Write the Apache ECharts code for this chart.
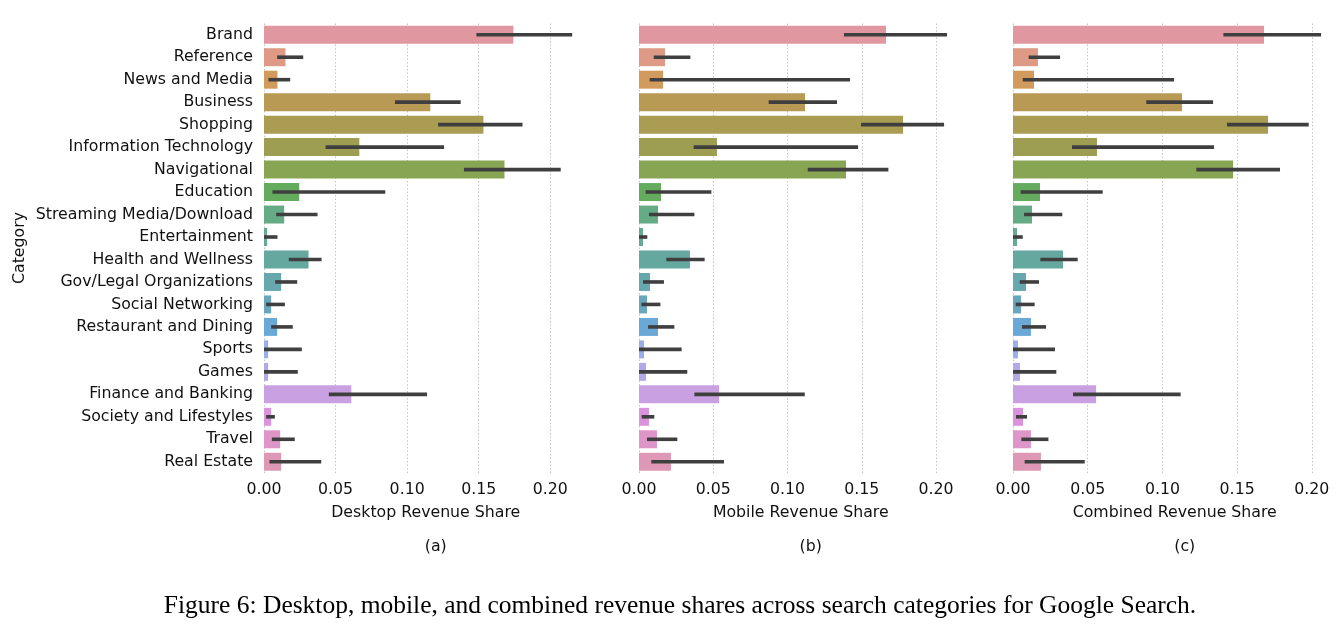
<!DOCTYPE html>
<html>
<head>
<meta charset="utf-8">
<script src="https://cdn.jsdelivr.net/npm/echarts@6/dist/echarts.min.js"></script>
<style>
html,body{margin:0;padding:0;background:#fff;}
#chart{width:1344px;height:636px;}
</style>
</head>
<body>
<div id="chart"></div>
<script>
const categories = ['Brand','Reference','News and Media','Business','Shopping','Information Technology','Navigational','Education','Streaming Media/Download','Entertainment','Health and Wellness','Gov/Legal Organizations','Social Networking','Restaurant and Dining','Sports','Games','Finance and Banking','Society and Lifestyles','Travel','Real Estate'];

const desktop   = [0.1742,0.0150,0.0094,0.1162,0.1533,0.0666,0.1680,0.0246,0.0141,0.0022,0.0311,0.0120,0.0050,0.0092,0.0029,0.0029,0.0610,0.0050,0.0113,0.0120];
const desktopLo = [0.1484,0.0092,0.0031,0.0915,0.1216,0.0430,0.1397,0.0059,0.0085,0.0000,0.0173,0.0078,0.0015,0.0050,0.0000,0.0000,0.0453,0.0015,0.0055,0.0038];
const desktopHi = [0.2153,0.0274,0.0183,0.1374,0.1806,0.1258,0.2073,0.0847,0.0374,0.0094,0.0402,0.0232,0.0146,0.0201,0.0264,0.0236,0.1139,0.0076,0.0215,0.0400];

const mobile   = [0.1663,0.0175,0.0162,0.1118,0.1778,0.0525,0.1394,0.0148,0.0128,0.0027,0.0343,0.0074,0.0054,0.0128,0.0034,0.0047,0.0539,0.0067,0.0121,0.0215];
const mobileLo = [0.1380,0.0099,0.0072,0.0873,0.1495,0.0368,0.1136,0.0045,0.0067,0.0000,0.0184,0.0027,0.0016,0.0061,0.0000,0.0000,0.0373,0.0018,0.0054,0.0083];
const mobileHi = [0.2074,0.0346,0.1421,0.1333,0.2054,0.1475,0.1679,0.0487,0.0373,0.0056,0.0442,0.0168,0.0144,0.0238,0.0287,0.0325,0.1116,0.0103,0.0258,0.0572];

const combined   = [0.1680,0.0167,0.0141,0.1131,0.1707,0.0562,0.1473,0.0181,0.0127,0.0027,0.0335,0.0087,0.0054,0.0120,0.0033,0.0047,0.0556,0.0067,0.0120,0.0187];
const combinedLo = [0.1408,0.0105,0.0065,0.0892,0.1432,0.0395,0.1227,0.0051,0.0074,0.0000,0.0183,0.0045,0.0018,0.0060,0.0000,0.0000,0.0402,0.0020,0.0056,0.0078];
const combinedHi = [0.2062,0.0315,0.1078,0.1339,0.1979,0.1345,0.1787,0.0600,0.0330,0.0065,0.0433,0.0174,0.0145,0.0221,0.0281,0.0290,0.1122,0.0094,0.0237,0.0480];

const axisNames = ['Desktop Revenue Share','Mobile Revenue Share','Combined Revenue Share'];
const subLabels = ['(a)','(b)','(c)'];
const xTicks = [0, 0.05, 0.10, 0.15, 0.20];
const axisMax = [0.226, 0.2178, 0.2165];
const caption = 'Figure 6: Desktop, mobile, and combined revenue shares across search categories for Google Search.';

const palette = ['#e0979f','#df9a86','#d29a5c','#b89a55','#aa9c53','#9d9e52','#87a553','#63ac5d','#64ab86','#65aa96','#65a8a0','#66a8ae','#68a7bb','#6aa9d6','#9aaeea','#b5a8e8','#c9a0e2','#dc93de','#de95c8','#de98b5'];

const panels = [
  {vals: desktop, lo: desktopLo, hi: desktopHi},
  {vals: mobile, lo: mobileLo, hi: mobileHi},
  {vals: combined, lo: combinedLo, hi: combinedHi}
];
const lefts = [264, 639, 1013];
const gw = 323.5;
const FONT = 'DejaVu Sans';
const FS = 15.75;
const TXT = '#111111';

const grids = [], xAxes = [], yAxes = [], series = [], graphics = [];
panels.forEach((p, k) => {
  grids.push({left: lefts[k], top: 23.5, width: gw, height: 449.5, containLabel: false});
  xAxes.push({
    type: 'value', gridIndex: k, min: 0, max: axisMax[k], interval: 0.05,
    axisLine: {show: false}, axisTick: {show: false},
    axisLabel: {
      color: TXT, fontFamily: FONT, fontSize: FS, margin: 9,
      showMaxLabel: false,
      formatter: v => xTicks.some(t => Math.abs(t - v) < 1e-9) ? v.toFixed(2) : ''
    },
    splitLine: {show: true, showMaxLine: false, lineStyle: {color: '#c4c4c4', width: 1, type: [1.5, 2]}},
    name: axisNames[k], nameLocation: 'middle', nameGap: 32,
    nameTextStyle: {color: TXT, fontFamily: FONT, fontSize: FS}
  });
  yAxes.push({
    type: 'category', gridIndex: k, data: categories, inverse: true,
    axisLine: {show: false}, axisTick: {show: false},
    axisLabel: {show: k === 0, color: TXT, fontFamily: FONT, fontSize: FS, margin: 11},
    splitLine: {show: false}
  });
  series.push({
    type: 'bar', xAxisIndex: k, yAxisIndex: k, barWidth: '80%',
    data: p.vals.map((v, i) => ({value: v, itemStyle: {color: palette[i]}})),
    z: 2
  });
  series.push({
    type: 'custom', xAxisIndex: k, yAxisIndex: k, z: 3,
    encode: {x: [0, 1], y: 2},
    data: p.lo.map((l, i) => [l, p.hi[i], i]),
    renderItem: function (params, api) {
      const a = api.coord([api.value(0), api.value(2)]);
      const b = api.coord([api.value(1), api.value(2)]);
      return {type: 'line', shape: {x1: a[0], y1: a[1], x2: b[0], y2: b[1]},
              style: {stroke: '#3f3f3f', lineWidth: 3.6}};
    }
  });
  graphics.push({type: 'text', x: lefts[k] + gw / 2 + 10, y: 547,
    style: {text: subLabels[k], font: FS + 'px "DejaVu Sans"', fill: TXT, align: 'center', verticalAlign: 'middle'}});
});

graphics.push({type: 'text', x: 20, y: 248, rotation: Math.PI / 2,
  style: {text: 'Category', font: FS + 'px "DejaVu Sans"', fill: TXT, align: 'center', verticalAlign: 'middle'}});
graphics.push({type: 'text', x: 680, y: 606,
  style: {text: caption, font: '25.5px "Liberation Serif"', fill: '#000', align: 'center', verticalAlign: 'middle'}});

const chart = echarts.init(document.getElementById('chart'), null, {renderer: 'canvas'});
chart.setOption({
  animation: false,
  backgroundColor: '#ffffff',
  grid: grids, xAxis: xAxes, yAxis: yAxes, series: series, graphic: graphics
});
</script>
</body>
</html>
